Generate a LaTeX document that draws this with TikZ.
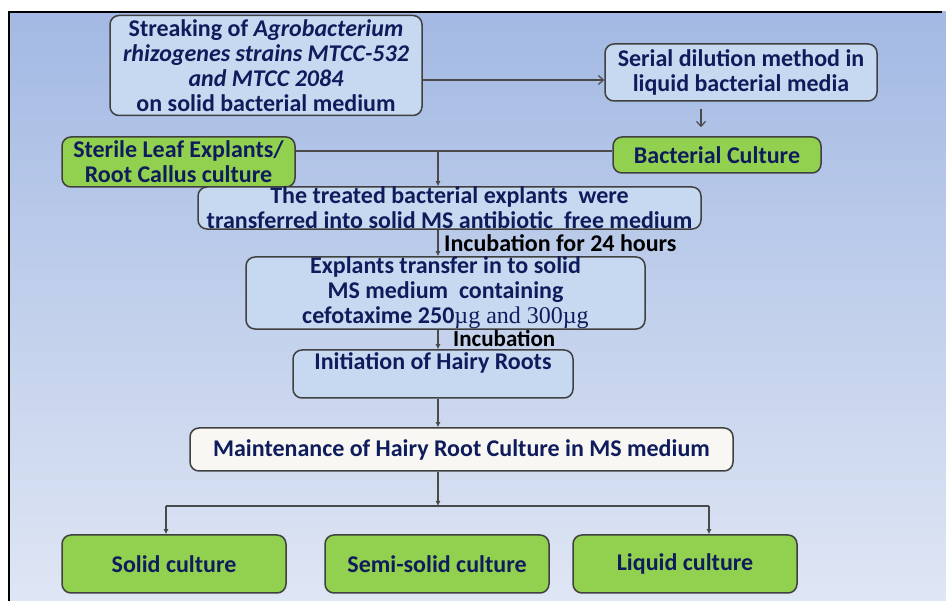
\documentclass[tikz,border=0pt]{standalone}
\usepackage{fontspec}
\setmainfont{Carlito}
\newfontfamily\timesf{Liberation Serif}
\usetikzlibrary{arrows.meta}
\definecolor{navy}{HTML}{0F1C5C}
\definecolor{lblue}{HTML}{C6D9F1}
\definecolor{lgreen}{HTML}{92D050}
\definecolor{offw}{HTML}{F8F7F3}
\definecolor{bord}{HTML}{404040}
\definecolor{conn}{HTML}{4A4A4A}
\definecolor{bgtop}{HTML}{A3B9E3}
\definecolor{bgbot}{HTML}{DFE6F4}
\begin{document}
\begin{tikzpicture}[x=1pt,y=-1pt,
  every node/.style={font=\fontsize{24}{25}\selectfont\bfseries, text=navy},
  box/.style={draw=bord, line width=1.5pt, rounded corners=9pt, align=center, inner sep=0pt},
  bluebox/.style={box, fill=lblue},
  greenbox/.style={box, fill=lgreen},
  whitebox/.style={box, fill=offw},
  conline/.style={draw=conn, line width=1.2pt},
  arr/.style={conline, -{Latex[length=5pt,width=5pt]}},
  openarr/.style={conline, -{Straight Barb[length=5pt,width=9pt]}},
  lbl/.style={text=black, anchor=west, inner sep=0pt}]
\useasboundingbox (0,0) rectangle (946,601);
\fill[white] (0,0) rectangle (946,601);
\shade[top color=bgtop, bottom color=bgbot] (9,12) rectangle (946,601);
\draw[black, line width=2.5pt] (9,601) -- (9,12) -- (942,12);

\node[bluebox, minimum width=312pt, minimum height=100pt] (streak) at (266,65.5)
  {Streaking of \itshape Agrobacterium\\ \itshape rhizogenes strains MTCC-532\\ \itshape and MTCC 2084\\ on solid bacterial medium};
\node[bluebox, minimum width=272pt, minimum height=57pt] (serial) at (741,72.5)
  {Serial dilution method in\\ liquid bacterial media};
\node[greenbox, minimum width=208pt, minimum height=36pt] (bact) at (717,155)
  {Bacterial Culture};
\node[greenbox, minimum width=233pt, minimum height=50pt] (steril) at (178.5,162)
  {Sterile Leaf Explants/\\ Root Callus culture};
\node[bluebox, minimum width=503pt, minimum height=42pt] (treat) at (449.5,208)
  {The treated bacterial explants\ \ were\\ transferred into solid MS antibiotic\ \ free medium\hspace{14pt}};
\node[bluebox, minimum width=399pt, minimum height=70pt] (expl) at (445.5,293)
  {Explants transfer in to solid\\ MS medium\ \ containing\\ cefotaxime 250{\timesf\mdseries µg and 300µg}};
\node[bluebox, minimum width=280pt, minimum height=48pt] (init) at (433,374)
  {Initiation of Hairy Roots\\ \mbox{}};
\node[whitebox, minimum width=543pt, minimum height=43pt] (maint) at (461.5,449.5)
  {Maintenance of Hairy Root Culture in MS medium};
\node[greenbox, minimum width=224pt, minimum height=58pt] (solid) at (174,564)
  {Solid culture};
\node[greenbox, minimum width=224pt, minimum height=58pt] (semi) at (437,564)
  {Semi-solid culture};
\node[greenbox, minimum width=224pt, minimum height=58pt] (liquid) at (685,564)
  {Liquid culture};

\node[lbl] (inc1) at (444,243) {Incubation for 24 hours};
\node[lbl, font=\fontsize{23}{25}\selectfont\bfseries] (inc2) at (453,338.5) {Incubation};

\coordinate (j1) at (438,151);
\coordinate (j2) at (438,506);
\coordinate (jl) at (166,506);
\coordinate (jr) at (709,506);

\draw[openarr] ([yshift=-14.5pt]streak.east) -- ([yshift=-7.5pt]serial.west);
\draw[openarr, shorten <=7pt, shorten >=9pt] ([xshift=-40pt]serial.south) -- ([xshift=-16pt]bact.north);
\draw[conline] ([yshift=11pt]steril.east) -- ([yshift=4pt]bact.west);
\draw[arr] (j1) -- (j1 |- treat.north);
\draw[arr] (j1 |- treat.south) -- (j1 |- expl.north);
\draw[arr] (j1 |- expl.south) -- (j1 |- init.north);
\draw[arr] (j1 |- init.south) -- (j1 |- maint.north);
\draw[arr] (j1 |- maint.south) -- (j2);
\draw[conline] (jl) -- (jr);
\draw[arr] (jl) -- (jl |- solid.north);
\draw[arr] (jr) -- (jr |- liquid.north);
\end{tikzpicture}
\end{document}
